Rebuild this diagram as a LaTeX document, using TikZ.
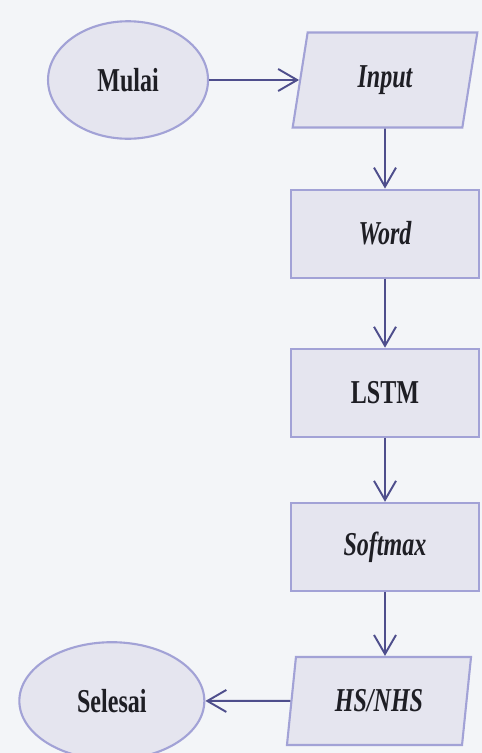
\documentclass[tikz,border=0pt]{standalone}
\usepackage{fontspec}
\setmainfont[FakeStretch=0.72]{Liberation Serif}
\usepackage{tikz}
\usetikzlibrary{arrows.meta,positioning,shapes.geometric}
\definecolor{cpaper}{HTML}{F3F5F8}
\definecolor{cfill}{HTML}{E5E5EF}
\definecolor{cedge}{HTML}{A2A2D6}
\definecolor{carrow}{HTML}{4E4E8C}
\definecolor{cink}{HTML}{1E1E24}

\begin{document}
\begin{tikzpicture}[
    node distance=12.8mm,
    txt/.style={font=\fontsize{19}{22}\selectfont\bfseries, text=cink},
    term/.style={txt, ellipse, draw=cedge, fill=cfill, line width=1.2pt,
      minimum width=32mm, minimum height=23.5mm},
    io/.style={txt, trapezium, trapezium left angle=81, trapezium right angle=99,
      trapezium stretches=true, draw=cedge, fill=cfill, line width=1.2pt,
      minimum width=37mm, minimum height=17.6mm},
    proc/.style={txt, rectangle, draw=cedge, fill=cfill, line width=1.2pt,
      minimum width=37.6mm, minimum height=17.6mm},
    ar/.style={-{Straight Barb[length=3.8mm, width=4.4mm, line width=1.1pt]},
      carrow, line width=1.1pt}]
  \fill[cpaper] (0,0) rectangle (96.4mm,-150.6mm);
  \useasboundingbox (0,0) rectangle (96.4mm,-150.6mm);

  \node[io, minimum height=19mm] (inp) at (77mm,-16mm) {\itshape Input};
  \node[term, left=18mm of inp] (mulai) {Mulai};
  \node[proc, below=12mm of inp] (word) {\itshape Word};
  \node[proc, below=13.8mm of word] (lstm) {LSTM};
  \node[proc, below=of lstm] (soft) {\itshape Softmax};
  \node[io, below=of soft, xshift=-1.2mm] (hs) {\itshape HS/NHS};
  \node[term, left=17mm of hs, minimum width=37mm] (selesai) {Selesai};

  \draw[ar] (mulai) -- (inp);
  \draw[ar] (inp) -- (word);
  \draw[ar] (word) -- (lstm);
  \draw[ar] (lstm) -- (soft);
  \draw[ar] (soft.south) -- (soft.south |- hs.north);
  \draw[ar] (hs) -- (selesai);
\end{tikzpicture}
\end{document}
